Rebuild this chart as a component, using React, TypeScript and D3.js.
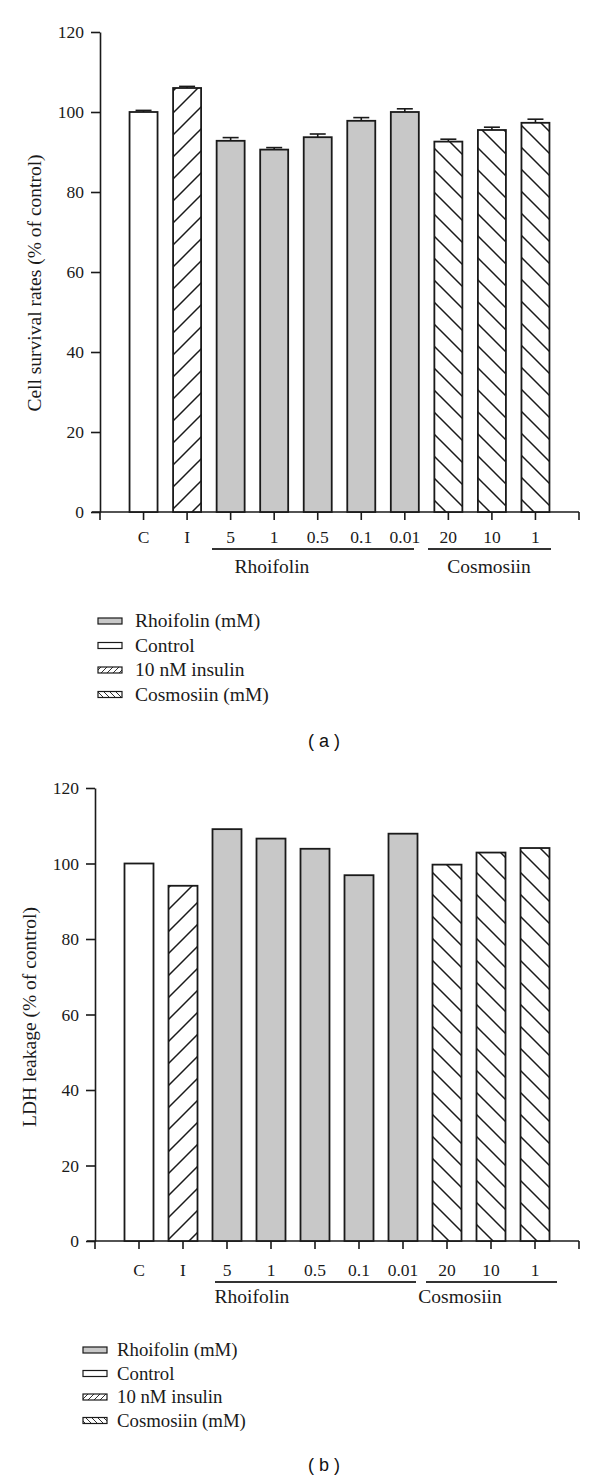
import { useEffect, useRef } from "react";
import * as d3 from "d3";

// categories along the x axis (positions 1..10)
const categories = ["C", "I", "5", "1", "0.5", "0.1", "0.01", "20", "10", "1"];
const kinds = ["control", "insulin", "rhoifolin", "rhoifolin", "rhoifolin", "rhoifolin", "rhoifolin", "cosmosiin", "cosmosiin", "cosmosiin"];

// panel (a): cell survival rates, % of control
const survival = [100, 106, 92.8, 90.6, 93.7, 97.8, 100, 92.6, 95.5, 97.3];
const survivalErr = [0.4, 0.4, 0.8, 0.5, 0.8, 0.8, 0.8, 0.6, 0.7, 0.9];

// panel (b): LDH leakage, % of control
const ldh = [100, 94.1, 109.1, 106.6, 103.9, 96.9, 107.9, 99.7, 102.9, 104.1];

const yTicks = [0, 20, 40, 60, 80, 100, 120];
const legendLabels = ["Rhoifolin (mM)", "Control", "10 nM insulin", "Cosmosiin (mM)"];
const legendKinds = ["rhoifolin", "control", "insulin", "cosmosiin"];

const serif = "'Liberation Serif', 'Times New Roman', serif";
const sans = "'Liberation Sans', Arial, sans-serif";
const ink = "#1a1a1a";

type Panel = {
  values: number[];
  errors: number[] | null;
  yTitle: string;
  letter: string;
  axisX: number;
  endX: number;
  top: number;
  bottom: number;
  barW: number;
  yTitleX: number;
  yTitleY: number;
  tickLabelY: number;
  lineY: number;
  groupLabelY: number;
  rhoLine: [number, number];
  cosLine: [number, number];
  rhoLabelX: number;
  cosLabelX: number;
  legendX: number;
  legendTextX: number;
  legendY: number;
  legendStep: number;
  legendFont: number;
  letterY: number;
};

const panels: Panel[] = [
  {
    values: survival,
    errors: survivalErr,
    yTitle: "Cell survival rates (% of control)",
    letter: "( a )",
    axisX: 100,
    endX: 579,
    top: 32,
    bottom: 512,
    barW: 28,
    yTitleX: 34,
    yTitleY: 283,
    tickLabelY: 543,
    lineY: 549,
    groupLabelY: 573,
    rhoLine: [212, 414],
    cosLine: [428, 551],
    rhoLabelX: 272,
    cosLabelX: 489,
    legendX: 98,
    legendTextX: 135,
    legendY: 621,
    legendStep: 24.5,
    legendFont: 19.5,
    letterY: 747,
  },
  {
    values: ldh,
    errors: null,
    yTitle: "LDH leakage (% of control)",
    letter: "( b )",
    axisX: 95,
    endX: 579,
    top: 788,
    bottom: 1241,
    barW: 29,
    yTitleX: 29,
    yTitleY: 1017,
    tickLabelY: 1276,
    lineY: 1282,
    groupLabelY: 1303,
    rhoLine: [215, 416],
    cosLine: [426, 557],
    rhoLabelX: 252,
    cosLabelX: 460,
    legendX: 83,
    legendTextX: 117,
    legendY: 1350,
    legendStep: 23.5,
    legendFont: 18.8,
    letterY: 1471,
  },
];

const fillFor = (k: string, small: boolean) => {
  if (k === "rhoifolin") return "#c8c8c8";
  if (k === "control") return "#ffffff";
  if (k === "insulin") return small ? "url(#fwdSmall)" : "url(#fwd)";
  return small ? "url(#backSmall)" : "url(#back)";
};

export default function App() {
  const svgRef = useRef<SVGSVGElement>(null);

  useEffect(() => {
    const svg = d3.select(svgRef.current);
    svg.selectAll("*").remove();
    svg.append("rect").attr("width", 600).attr("height", 1482).attr("fill", "white");

    const defs = svg.append("defs");
    const addPattern = (id: string, size: number, forward: boolean, sw: number) => {
      const p = defs
        .append("pattern")
        .attr("id", id)
        .attr("patternUnits", "userSpaceOnUse")
        .attr("width", size)
        .attr("height", size);
      p.append("rect").attr("width", size).attr("height", size).attr("fill", "white");
      const s = size;
      const d = forward
        ? `M0,${s} L${s},0 M${-s / 2},${s / 2} L${s / 2},${-s / 2} M${s / 2},${s * 1.5} L${s * 1.5},${s / 2}`
        : `M0,0 L${s},${s} M${-s / 2},${s / 2} L${s / 2},${s * 1.5} M${s / 2},${-s / 2} L${s * 1.5},${s / 2}`;
      p.append("path").attr("d", d).attr("stroke", ink).attr("stroke-width", sw);
    };
    addPattern("fwd", 22, true, 1.5);
    addPattern("back", 22, false, 1.5);
    addPattern("fwdSmall", 6, true, 0.9);
    addPattern("backSmall", 6, false, 0.9);

    panels.forEach((p) => {
      const g = svg.append("g");
      const x = d3.scaleLinear().domain([0, categories.length + 1]).range([p.axisX, p.endX]);
      const y = d3.scaleLinear().domain([0, 120]).range([p.bottom, p.top]);

      // y axis
      const yAxis = d3.axisLeft(y).tickValues(yTicks).tickSize(9).tickPadding(7).tickSizeOuter(0);
      const ya = g.append("g").attr("transform", `translate(${p.axisX},0)`).call(yAxis);
      ya.select(".domain").attr("stroke", ink).attr("stroke-width", 1.6);
      ya.selectAll(".tick line").attr("stroke", ink).attr("stroke-width", 1.6);
      ya.selectAll(".tick text")
        .attr("font-family", serif)
        .attr("font-size", 17.5)
        .attr("fill", ink);

      // x axis
      const xTicks = d3.range(0, categories.length + 2);
      g.append("line")
        .attr("x1", p.axisX - 8)
        .attr("x2", p.endX)
        .attr("y1", p.bottom)
        .attr("y2", p.bottom)
        .attr("stroke", ink)
        .attr("stroke-width", 1.6);
      g.selectAll(".xt")
        .data(xTicks)
        .enter()
        .append("line")
        .attr("x1", (d) => x(d))
        .attr("x2", (d) => x(d))
        .attr("y1", p.bottom)
        .attr("y2", p.bottom + 8)
        .attr("stroke", ink)
        .attr("stroke-width", 1.6);
      g.selectAll(".xl")
        .data(categories)
        .enter()
        .append("text")
        .attr("x", (_, i) => x(i + 1))
        .attr("y", p.tickLabelY)
        .attr("text-anchor", "middle")
        .attr("font-family", serif)
        .attr("font-size", 17.5)
        .attr("fill", ink)
        .text((d) => d);

      // bars
      g.selectAll(".bar")
        .data(p.values)
        .enter()
        .append("rect")
        .attr("x", (_, i) => x(i + 1) - p.barW / 2)
        .attr("width", p.barW)
        .attr("y", (d) => y(d))
        .attr("height", (d) => p.bottom - y(d))
        .attr("fill", (_, i) => fillFor(kinds[i], false))
        .attr("stroke", ink)
        .attr("stroke-width", 1.8);

      // error bars
      if (p.errors) {
        const errs = p.errors;
        const eg = g.selectAll(".err").data(p.values).enter().append("g");
        eg.append("line")
          .attr("x1", (_, i) => x(i + 1))
          .attr("x2", (_, i) => x(i + 1))
          .attr("y1", (d) => y(d))
          .attr("y2", (d, i) => y(d + errs[i]))
          .attr("stroke", ink)
          .attr("stroke-width", 1.6);
        eg.append("line")
          .attr("x1", (_, i) => x(i + 1) - 8)
          .attr("x2", (_, i) => x(i + 1) + 8)
          .attr("y1", (d, i) => y(d + errs[i]))
          .attr("y2", (d, i) => y(d + errs[i]))
          .attr("stroke", ink)
          .attr("stroke-width", 1.6);
      }

      // group lines and labels
      [p.rhoLine, p.cosLine].forEach((l) => {
        g.append("line")
          .attr("x1", l[0])
          .attr("x2", l[1])
          .attr("y1", p.lineY)
          .attr("y2", p.lineY)
          .attr("stroke", "#333")
          .attr("stroke-width", 1.8);
      });
      [
        ["Rhoifolin", p.rhoLabelX],
        ["Cosmosiin", p.cosLabelX],
      ].forEach(([t, lx]) => {
        g.append("text")
          .attr("x", lx as number)
          .attr("y", p.groupLabelY)
          .attr("text-anchor", "middle")
          .attr("font-family", serif)
          .attr("font-size", 19.5)
          .attr("fill", ink)
          .text(t as string);
      });

      // y title
      g.append("text")
        .attr("transform", `translate(${p.yTitleX},${p.yTitleY}) rotate(-90)`)
        .attr("text-anchor", "middle")
        .attr("dy", "0.35em")
        .attr("font-family", serif)
        .attr("font-size", 19.5)
        .attr("fill", ink)
        .text(p.yTitle);

      // legend
      const lg = g.selectAll(".lg").data(legendLabels).enter().append("g");
      lg.append("rect")
        .attr("x", p.legendX)
        .attr("y", (_, i) => p.legendY + i * p.legendStep - 3)
        .attr("width", 24)
        .attr("height", 6)
        .attr("fill", (_, i) => fillFor(legendKinds[i], true))
        .attr("stroke", ink)
        .attr("stroke-width", 1.2);
      lg.append("text")
        .attr("x", p.legendTextX)
        .attr("y", (_, i) => p.legendY + i * p.legendStep)
        .attr("dy", "0.33em")
        .attr("font-family", serif)
        .attr("font-size", p.legendFont)
        .attr("fill", ink)
        .text((d) => d);

      // panel letter
      g.append("text")
        .attr("x", 324)
        .attr("y", p.letterY)
        .attr("text-anchor", "middle")
        .attr("font-family", sans)
        .attr("font-size", 18)
        .attr("fill", "#111")
        .style("white-space", "pre")
        .text(p.letter);
    });
  }, []);

  return (
    <svg
      ref={svgRef}
      width={600}
      height={1482}
      style={{ position: "absolute", left: 0, top: 0, display: "block" }}
    ></svg>
  );
}
